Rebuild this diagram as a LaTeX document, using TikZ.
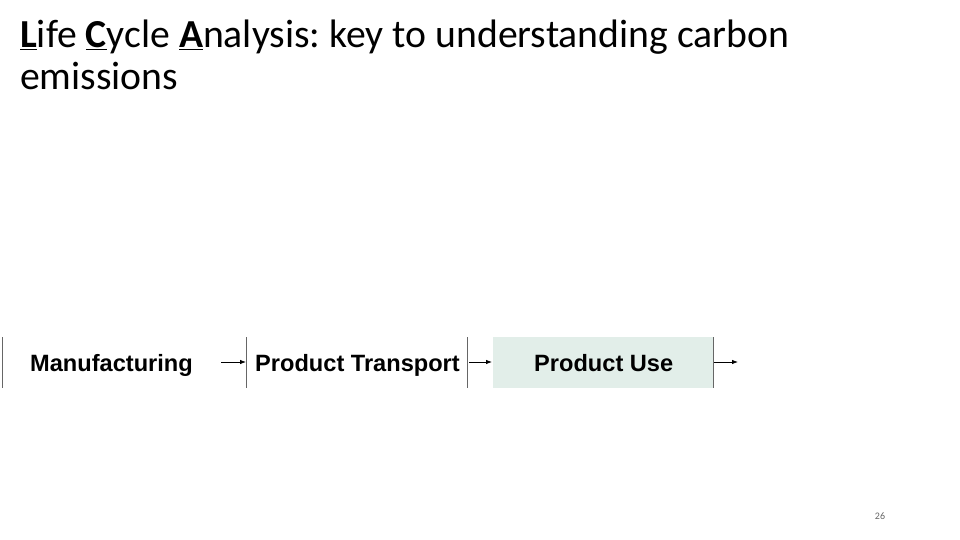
\documentclass[tikz,border=0pt]{standalone}
\usepackage{fontspec}
\setmainfont{Carlito}
\newfontfamily\arialfont{Liberation Sans}
\usetikzlibrary{arrows.meta}
\definecolor{boxfill}{HTML}{E2EEE9}
\newcommand{\ulb}[1]{\underline{\textbf{#1}}}
\frenchspacing
\begin{document}
\begin{tikzpicture}[x=1pt,y=-1pt,
  lbl/.style={font=\arialfont\bfseries\fontsize{23.6}{27}\selectfont, inner sep=0pt, anchor=base west},
  divider/.style={draw=black!60, line width=0.8pt},
  flow/.style={-{Latex[length=6pt,width=4.5pt]}, line width=0.8pt}]
\useasboundingbox (0,0) rectangle (960,540);
% title
\node[anchor=base west, inner sep=0pt, font=\fontsize{39.7}{42}\selectfont, align=left] (title) at (20,90)
  {\ulb{L}ife \ulb{C}ycle \ulb{A}nalysis: key to understanding carbon\\emissions};
% process
\fill[boxfill] (493,337) rectangle (713,388);
\coordinate (b0) at (2,337); \coordinate (b0e) at (2,388);
\coordinate (b1) at (246,337); \coordinate (b1e) at (246,388);
\coordinate (b2) at (467,337); \coordinate (b2e) at (467,388);
\coordinate (b3) at (713,337); \coordinate (b3e) at (713,388);
\draw[divider] (b0) -- (b0e);
\draw[divider] (b1) -- (b1e);
\draw[divider] (b2) -- (b2e);
\draw[divider] (b3) -- (b3e);
\node[lbl] (man) at (30,371) {Manufacturing};
\node[lbl] (trans) at (255,371) {Product Transport};
\node[lbl] (use) at (534,371) {Product Use};
\coordinate (a1s) at (221,362); \coordinate (a1e) at (246,362);
\coordinate (a2s) at (469,362); \coordinate (a2e) at (492,362);
\coordinate (a3s) at (714,362); \coordinate (a3e) at (738,362);
\draw[flow] (a1s) -- (a1e);
\draw[flow] (a2s) -- (a2e);
\draw[flow] (a3s) -- (a3e);
\node[anchor=base, inner sep=0pt, font=\fontsize{10}{12}\selectfont, text=black!60] (pg) at (880,519) {26};
\end{tikzpicture}
\end{document}
